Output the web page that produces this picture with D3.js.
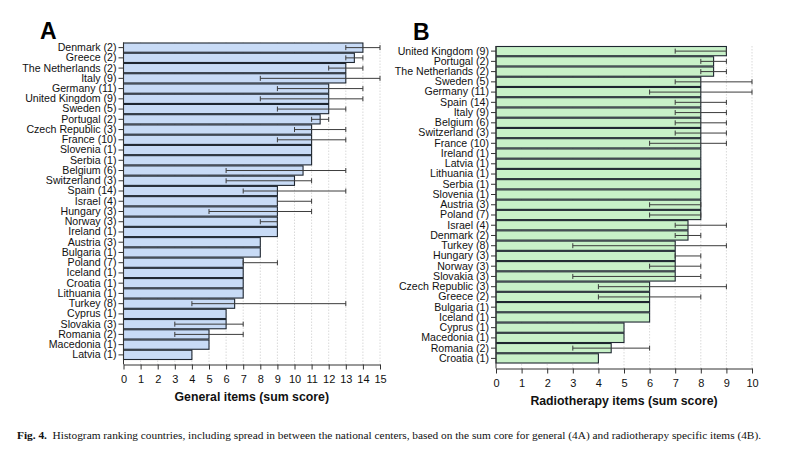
<!DOCTYPE html>
<html><head><meta charset="utf-8">
<script src="https://cdn.jsdelivr.net/npm/d3@7"></script>
<style>body{margin:0;background:#fff}svg{display:block}</style>
</head><body>
<script>
// Panel A: general items
const catsA = ["Denmark (2)","Greece (2)","The Netherlands (2)","Italy (9)","Germany (11)","United Kingdom (9)","Sweden (5)","Portugal (2)","Czech Republic (3)","France (10)","Slovenia (1)","Serbia (1)","Belgium (6)","Switzerland (3)","Spain (14)","Israel (4)","Hungary (3)","Norway (3)","Ireland (1)","Austria (3)","Bulgaria (1)","Poland (7)","Iceland (1)","Croatia (1)","Lithuania (1)","Turkey (8)","Cyprus (1)","Slovakia (3)","Romania (2)","Macedonia (1)","Latvia (1)"];
const valsA = [14,13.5,13,13,12,12,12,11.5,11,11,11,11,10.5,10,9,9,9,9,9,8,8,7,7,7,7,6.5,6,6,5,5,4];
const lowA  = [13,13,12,8,9,8,9,11,10,9,null,null,6,6,7,9,5,8,null,null,null,7,null,null,null,4,null,3,3,null,null];
const highA = [15,14,14,15,14,14,13,12,13,13,null,null,13,11,13,11,11,9,null,null,null,9,null,null,null,13,null,7,7,null,null];
const ticksA = d3.range(0,16);

// Panel B: radiotherapy items
const catsB = ["United Kingdom (9)","Portugal (2)","The Netherlands (2)","Sweden (5)","Germany (11)","Spain (14)","Italy (9)","Belgium (6)","Switzerland (3)","France (10)","Ireland (1)","Latvia (1)","Lithuania (1)","Serbia (1)","Slovenia (1)","Austria (3)","Poland (7)","Israel (4)","Denmark (2)","Turkey (8)","Hungary (3)","Norway (3)","Slovakia (3)","Czech Republic (3)","Greece (2)","Bulgaria (1)","Iceland (1)","Cyprus (1)","Macedonia (1)","Romania (2)","Croatia (1)"];
const valsB = [9,8.5,8.5,8,8,8,8,8,8,8,8,8,8,8,8,8,8,7.5,7.5,7,7,7,7,6,6,6,6,5,5,4.5,4];
const lowB  = [7,8,8,7,6,7,7,7,7,6,null,null,null,null,null,6,6,7,7,3,7,6,3,4,4,null,null,null,null,3,null];
const highB = [9,9,9,10,10,9,9,9,9,9,null,null,null,null,null,8,8,9,8,9,8,8,8,9,8,null,null,null,null,6,null];
const ticksB = d3.range(0,11);

const W=800,H=451;
const svg = d3.select("body").append("svg").attr("width",W).attr("height",H);
const FONT = "Liberation Sans, Arial, sans-serif";

function panel(o){
  const g = svg.append("g");
  const x = d3.scaleLinear().domain([0,o.max]).range([o.x0,o.x1]);
  const y = d3.scaleBand().domain(o.cats).range([o.yTop,o.yBot]).padding(0);
  // gridlines
  g.selectAll("line.grid").data(o.ticks.slice(1)).join("line")
    .attr("x1",d=>x(d)).attr("x2",d=>x(d)).attr("y1",o.yTop).attr("y2",o.axisY)
    .attr("stroke","#cfcfcf").attr("stroke-width",0.8).attr("stroke-dasharray","1.5,1.5");
  // bars
  g.selectAll("rect.bar").data(o.vals).join("rect")
    .attr("x",x(0)).attr("y",(d,i)=>y(o.cats[i])+0.5)
    .attr("width",d=>x(d)-x(0)).attr("height",y.bandwidth()-1)
    .attr("fill",o.fill).attr("stroke","#1e2630").attr("stroke-width",1.1);
  // error bars
  const eb = o.vals.map((v,i)=>({i,lo:o.low[i],hi:o.high[i]})).filter(d=>d.lo!=null);
  const ec = "#3c3c3c";
  eb.forEach(d=>{
    const cy = y(o.cats[d.i])+y.bandwidth()/2;
    g.append("line").attr("x1",x(d.lo)).attr("x2",x(d.hi)).attr("y1",cy).attr("y2",cy).attr("stroke",ec).attr("stroke-width",1);
    [d.lo,d.hi].forEach(v=>g.append("line").attr("x1",x(v)).attr("x2",x(v)).attr("y1",cy-2.5).attr("y2",cy+2.5).attr("stroke",ec).attr("stroke-width",1));
  });
  // y axis
  const ya = g.append("g").attr("transform",`translate(${x(0)},0)`)
    .call(d3.axisLeft(y).tickSize(5).tickPadding(2));
  ya.select(".domain").attr("d",`M0,${o.yTop}V${o.axisY}`).attr("stroke","#333");
  ya.selectAll(".tick line").attr("stroke","#333");
  ya.selectAll("text").attr("font-family",FONT).attr("font-size",10.6).attr("fill","#111");
  // x axis
  const xa = g.append("g").attr("transform",`translate(0,${o.axisY})`)
    .call(d3.axisBottom(x).tickValues(o.ticks).tickFormat(d3.format("d")).tickSize(5).tickSizeOuter(0).tickPadding(6));
  xa.select(".domain").attr("stroke","#333");
  xa.selectAll(".tick line").attr("stroke","#333");
  xa.selectAll("text").attr("font-family",FONT).attr("font-size",11).attr("fill","#111");
  // axis title
  g.append("text").attr("x",(o.x0+o.x1)/2).attr("y",o.titleY).attr("text-anchor","middle")
    .attr("font-family",FONT).attr("font-weight","bold").attr("font-size",12.3).attr("fill","#111").text(o.title);
  // panel letter
  g.append("text").attr("x",o.lx).attr("y",o.ly).attr("font-family",FONT).attr("font-weight","bold")
    .attr("font-size",23).attr("fill","#000").text(o.letter);
}

panel({cats:catsA,vals:valsA,low:lowA,high:highA,ticks:ticksA,max:15,x0:123.5,x1:380,yTop:42.5,yBot:360,axisY:364.5,
  fill:"#c8dbf6",title:"General items (sum score)",titleY:401,letter:"A",lx:40,ly:39});
panel({cats:catsB,vals:valsB,low:lowB,high:highB,ticks:ticksB,max:10,x0:496,x1:752,yTop:46,yBot:363.5,axisY:368.5,
  fill:"#c8f1c8",title:"Radiotherapy items (sum score)",titleY:405,letter:"B",lx:413,ly:40});

// caption
const cap = svg.append("text").attr("x",17).attr("y",439).attr("font-family","Liberation Serif, Times New Roman, serif")
  .attr("font-size",11.35).attr("fill","#111");
cap.append("tspan").attr("font-weight","bold").text("Fig. 4.");
cap.append("tspan").text("\u2002Histogram ranking countries, including spread in between the national centers, based on the sum core for general (4A) and radiotherapy specific items (4B).");
</script>
</body></html>
